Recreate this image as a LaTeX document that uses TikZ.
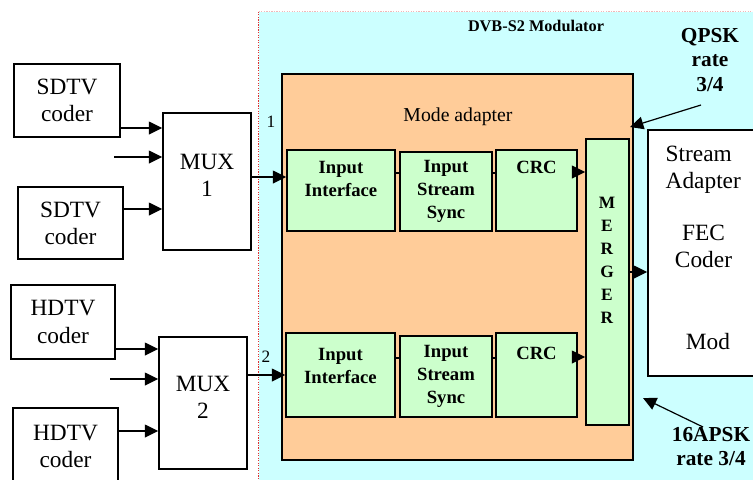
\documentclass[tikz,border=0pt]{standalone}
\usepackage{fontspec}
\setmainfont{Liberation Serif}
\usetikzlibrary{arrows.meta}
\definecolor{modbg}{HTML}{CCFFFF}
\definecolor{adaptbg}{HTML}{FFCC99}
\definecolor{blockbg}{HTML}{CCFFCC}
\definecolor{edgered}{HTML}{E03030}
\definecolor{edgepink}{HTML}{F0B8B8}
\tikzset{
  sz/.style 2 args={minimum width=#1*0.75pt, minimum height=#2*0.75pt, inner sep=0pt},
  blk/.style={draw=black, line width=1.1pt, rectangle},
  big/.style={font=\fontsize{17.5}{20.3}\selectfont, align=center},
  lbl/.style={font=\fontsize{14}{17}\selectfont\bfseries, align=center},
  toplbl/.style={lbl, anchor=north, inner sep=0pt},
  arr/.style={line width=1.1pt, -{Triangle[length=10pt,width=9.5pt]}},
  link/.style={line width=1.1pt},
  rate/.style={font=\fontsize{16}{18.4}\selectfont\bfseries, align=center},
}
\begin{document}
\begin{tikzpicture}[x=0.75pt,y=-0.75pt]
\useasboundingbox (0,0) rectangle (753,479);

% modulator area
\node[fill=modbg, sz={501}{478}] (modreg) at (509.5,251) {};
\draw[edgered, densely dotted, line width=0.9pt] (modreg.north west) -- (modreg.south west);
\draw[edgepink, densely dotted, line width=0.9pt] (modreg.north west) -- (modreg.north east);
\node[font=\fontsize{12.2}{14}\selectfont\bfseries] (modtitle) at (536,26) {DVB-S2 Modulator};

% mode adapter
\node[blk, fill=adaptbg, sz={351}{386}] (adapt) at (457.5,267) {};
\node[font=\fontsize{14.8}{17}\selectfont] (adapttitle) at (458,117) {Mode adapter};

% coders
\node[blk, fill=white, big, sz={106}{73}] (sd1) at (67,100.5) {SDTV\\coder};
\node[blk, fill=white, big, sz={105}{72}] (sd2) at (70.5,223) {SDTV\\coder};
\node[blk, fill=white, big, sz={104}{74}] (hd1) at (63,322) {HDTV\\coder};
\node[blk, fill=white, big, sz={105}{76}] (hd2) at (65.5,446) {HDTV\\coder};

% multiplexers
\node[blk, fill=white, sz={88}{137},
      label={[big, anchor=north, inner sep=0pt, yshift=-31.5pt]north:MUX\\1}] (mux1) at (207,181.5) {};
\node[blk, fill=white, sz={88}{132},
      label={[big, anchor=north, inner sep=0pt, yshift=-30pt]north:MUX\\2}] (mux2) at (203,403) {};

% upper chain
\node[blk, fill=blockbg, sz={108}{81},
      label={[toplbl, yshift=-9pt]north:Input\\Interface}] (ii1) at (341,190.5) {};
\node[blk, fill=blockbg, lbl, sz={92}{79}] (iss1) at (446,191.5) {Input\\Stream\\Sync};
\node[blk, fill=blockbg, sz={81}{81},
      label={[toplbl, yshift=-9pt]north:CRC}] (crc1) at (536.5,190.5) {};

% lower chain
\node[blk, fill=blockbg, sz={109}{84},
      label={[toplbl, yshift=-12pt]north:Input\\Interface}] (ii2) at (340.5,375) {};
\node[blk, fill=blockbg, lbl, sz={92}{81}] (iss2) at (446,376.5) {Input\\Stream\\Sync};
\node[blk, fill=blockbg, sz={81}{84},
      label={[toplbl, yshift=-11.25pt]north:CRC}] (crc2) at (536.5,375) {};

% merger
\node[blk, fill=blockbg, sz={43}{286}] (merger) at (607.5,282) {};
\node[font=\fontsize{13}{17.2}\selectfont\bfseries, align=center] (mergertxt) at (607,260) {M\\E\\R\\G\\E\\R};

% stream adapter / FEC / modulator
\node[blk, fill=white, sz={122}{246}] (sa) at (709,253) {};
\node[big, align=left, anchor=west] (satxt) at (661,170) {Stream\\Adapter};
\node[big] (fectxt) at (703.5,246) {FEC\\Coder};
\node[big] (modtxt) at (708,342) {Mod};

% port numbers
\node[font=\fontsize{13}{15}\selectfont] (p1) at (271,122) {1};
\node[font=\fontsize{13}{15}\selectfont] (p2) at (266,357) {2};

% constellation notes
\node[rate] (qpsk) at (710,60) {QPSK\\rate\\3/4};
\node[rate] (apsk) at (711,446.5) {16APSK\\rate 3/4};
\coordinate (qpskend) at (630,127);
\coordinate (apskend) at (643,398);
\coordinate (qpskstart) at (701,105);
\coordinate (apskstart) at (703,427);
\draw[arr, line width=0.9pt] (qpskstart) -- (qpskend);
\draw[arr, line width=0.9pt] (apskstart) -- (apskend);

% free inputs
\coordinate (in1) at (114,157);
\coordinate (in2) at (110,379);

% connectors into the multiplexers
\draw[arr] (sd1.east |- 0,128) -- (mux1.west |- 0,128);
\draw[arr] (in1) -- (mux1.west |- in1);
\draw[arr] (sd2.east |- 0,209) -- (mux1.west |- 0,209);
\draw[arr] (hd1.east |- 0,349) -- (mux2.west |- 0,349);
\draw[arr] (in2) -- (mux2.west |- in2);
\draw[arr] (hd2.east |- 0,431) -- (mux2.west |- 0,431);

% multiplexers to the mode adapter
\draw[arr] (mux1.east |- 0,177) -- (ii1.west |- 0,177);
\draw[arr] (mux2.east |- 0,375) -- (ii2.west |- 0,375);

% chain links
\draw[link] (ii1.east |- 0,173) -- (iss1.west |- 0,173);
\draw[link] (iss1.east |- 0,173) -- (crc1.west |- 0,173);
\draw[arr] (crc1.east |- 0,172) -- (merger.west |- 0,172);
\draw[link] (ii2.east |- 0,358) -- (iss2.west |- 0,358);
\draw[link] (iss2.east |- 0,358) -- (crc2.west |- 0,358);
\draw[arr] (crc2.east |- 0,357) -- (merger.west |- 0,357);
\draw[arr] (merger.east |- 0,272) -- (sa.west |- 0,272);
\end{tikzpicture}
\end{document}
